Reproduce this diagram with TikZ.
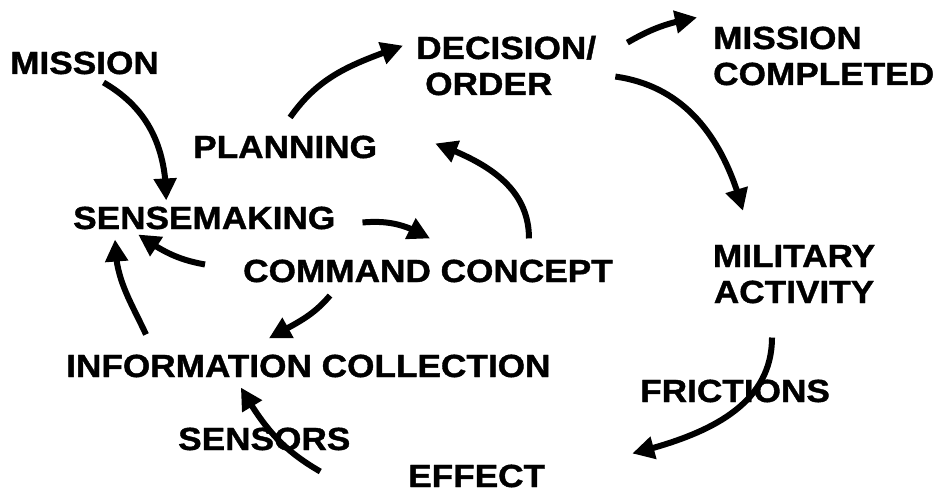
\documentclass[tikz,border=0pt]{standalone}
\usepackage{fontspec}
\usetikzlibrary{arrows.meta,bending}
\newfontfamily\diagfont{Liberation Sans}[FakeStretch=1.1,BoldFeatures={FakeBold=1.2}]
\tikzset{>={Triangle[length=22pt,width=22pt]}}

\begin{document}
\begin{tikzpicture}[x=1pt,y=1pt,
    lbl/.style={font=\diagfont\bfseries\fontsize{32}{36}\selectfont, inner sep=0pt, anchor=base west},
    arr/.style={->, line width=6pt}]
      \useasboundingbox (0,0) rectangle (933,491);
      \node[lbl] (mission) at (10,417) {MISSION};
      \node[lbl, align=left] (decision) at (416,396) {DECISION/\\\hspace*{9pt}ORDER};
      \node[lbl, align=left] (completed) at (713,406) {MISSION\\COMPLETED};
      \node[lbl] (planning) at (193,333) {PLANNING};
      \node[lbl] (sense) at (73,262) {SENSEMAKING};
      \node[lbl] (command) at (243,209) {COMMAND CONCEPT};
      \node[lbl] (info) at (66,114) {INFORMATION COLLECTION};
      \node[lbl, align=center, anchor=base] (military) at (794,188) {MILITARY\\ACTIVITY};
      \node[lbl] (frictions) at (640,89) {FRICTIONS};
      \node[lbl] (sensors) at (178,41) {SENSORS};
      \node[lbl] (effect) at (408,4) {EFFECT};
      \draw[arr] ([shift={(19,-8)}]mission.south) to[out=-30,in=90] ([shift={(-38,6)}]sense.north);
      \draw[arr] ([shift={(5,18)}]planning.north) to[out=55,in=200] ([shift={(-13,-10)}]decision.north west);
      \draw[arr] ([shift={(31,-7)}]decision.north east) to[out=30,in=190] ([shift={(-16,9)}]completed.north west);
      \draw[arr] ([shift={(19,-11)}]decision.east) to[out=-8,in=105] ([shift={(-51,34)}]military.north);
      \draw[arr] ([shift={(-22,-34)}]military.south) to[out=-90,in=14] ([shift={(87,22.5)}]effect.east);
      \draw[arr] ([shift={(56,-21)}]sensors.south) to[out=150,in=-60] ([shift={(-67.5,-10)}]info.south);
      \draw[arr] ([shift={(101,21)}]command.north) to[out=90,in=-20] ([shift={(58,3.5)}]planning.east);
      \draw[arr] ([shift={(27,-4.5)}]sense.east) to[out=5,in=150] ([shift={(2,21)}]command.north);
      \draw[arr] ([shift={(-38,6.5)}]command.west) to[out=170,in=-35] ([shift={(-66,-5)}]sense.south);
      \draw[arr] ([shift={(80,20)}]info.north west) to[out=115,in=-90] ([shift={(42,-10)}]sense.south west);
      \draw[arr] ([shift={(-98,-13)}]command.south) to[out=-130,in=30] ([shift={(-39.5,16)}]info.north);
    \end{tikzpicture}
\end{document}
